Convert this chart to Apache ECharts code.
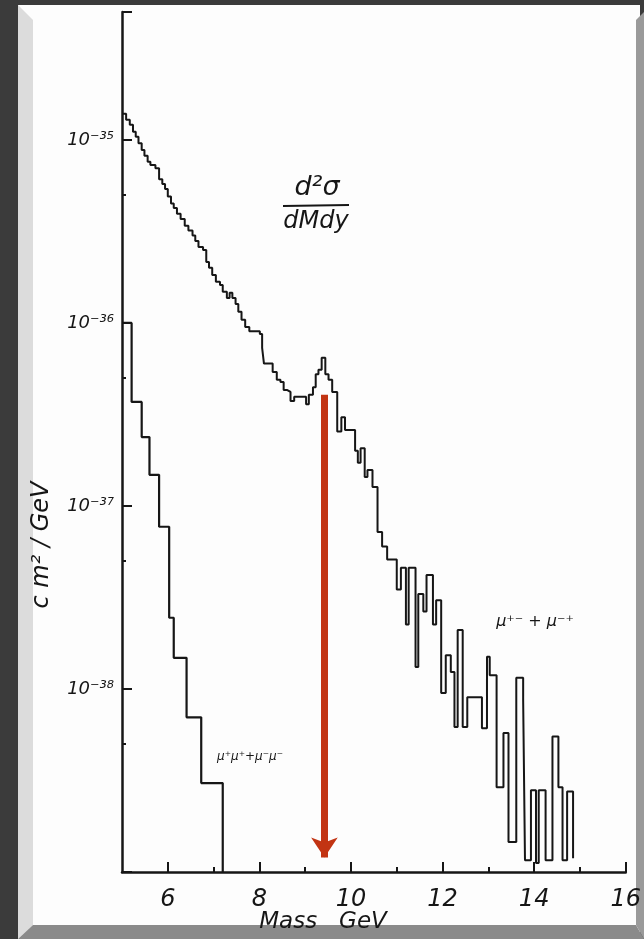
<!DOCTYPE html>
<html>
<head>
<meta charset="utf-8">
<script src="https://cdn.jsdelivr.net/npm/echarts@6/dist/echarts.min.js"></script>
<style>
html, body { margin: 0; padding: 0; background: #3b3b3b; }
#chart { width: 644px; height: 939px; }
</style>
</head>
<body>
<div id="chart"></div>
<script>
// mu+- + mu-+ : left edge of each step (GeV) and d2sigma/dMdy (cm^2/GeV)
const oppEdges = [
	5.00, 5.09, 5.17, 5.24, 5.30, 5.36, 5.43, 5.49, 5.56, 5.62, 5.73, 5.81, 5.88, 5.94, 6.00, 6.07, 6.13, 6.20, 6.28, 6.37,
	6.45, 6.54, 6.60, 6.67, 6.77, 6.84, 6.90, 6.97, 7.05, 7.14, 7.20, 7.29, 7.35, 7.41, 7.48, 7.54, 7.61, 7.69, 7.78, 8.01,
	8.06, 8.10, 8.29, 8.38, 8.46, 8.53, 8.61, 8.68, 8.76, 9.02, 9.08, 9.17, 9.23, 9.29, 9.36, 9.44, 9.51, 9.59, 9.70, 9.79,
	9.87, 10.09, 10.15, 10.21, 10.30, 10.36, 10.47, 10.58, 10.68, 10.79, 11.00, 11.09, 11.20, 11.26, 11.41, 11.47, 11.58, 11.65, 11.79, 11.86,
	11.97, 12.07, 12.18, 12.26, 12.33, 12.44, 12.54, 12.86, 12.97, 13.03, 13.18, 13.33, 13.44, 13.61, 13.76, 13.80, 13.93, 14.04, 14.10, 14.25,
	14.40, 14.53, 14.62, 14.72
]
const oppValues = [
	1.39e-35, 1.29e-35, 1.21e-35, 1.11e-35, 1.04e-35, 9.6e-36, 8.8e-36, 8.2e-36, 7.6e-36, 7.3e-36, 7.0e-36, 6.1e-36, 5.75e-36, 5.4e-36, 4.9e-36, 4.5e-36, 4.25e-36, 3.95e-36, 3.7e-36, 3.4e-36,
	3.2e-36, 3.0e-36, 2.8e-36, 2.6e-36, 2.5e-36, 2.15e-36, 2.0e-36, 1.83e-36, 1.68e-36, 1.61e-36, 1.48e-36, 1.37e-36, 1.46e-36, 1.37e-36, 1.27e-36, 1.15e-36, 1.04e-36, 9.5e-37, 9.0e-37, 8.7e-37,
	7.3e-37, 6.0e-37, 5.4e-37, 4.9e-37, 4.75e-37, 4.3e-37, 4.2e-37, 3.75e-37, 3.95e-37, 3.6e-37, 4.05e-37, 4.45e-37, 5.25e-37, 5.55e-37, 6.45e-37, 5.25e-37, 4.9e-37, 4.2e-37, 2.55e-37, 3.05e-37,
	2.6e-37, 2.0e-37, 1.72e-37, 2.07e-37, 1.44e-37, 1.57e-37, 1.27e-37, 7.2e-38, 6.0e-38, 5.1e-38, 3.5e-38, 4.6e-38, 2.25e-38, 4.6e-38, 1.32e-38, 3.3e-38, 2.65e-38, 4.2e-38, 2.25e-38, 3.05e-38,
	9.5e-39, 1.53e-38, 1.24e-38, 6.2e-39, 2.1e-38, 6.2e-39, 9.0e-39, 6.1e-39, 1.5e-38, 1.19e-38, 2.9e-39, 5.75e-39, 1.46e-39, 1.15e-38, 8.7e-39, 1.16e-39, 2.8e-39, 1.12e-39, 2.8e-39, 1.16e-39,
	5.5e-39, 2.9e-39, 1.16e-39, 2.75e-39
]
const oppEnd = 14.85
const oppFloor = 1.19e-39

// mu+mu+ + mu-mu-
const likeEdges = [5.00, 5.21, 5.43, 5.60, 5.81, 6.03, 6.13, 6.41, 6.73]
const likeValues = [1.0e-36, 3.7e-37, 2.38e-37, 1.48e-37, 7.7e-38, 2.45e-38, 1.48e-38, 7.0e-39, 3.06e-39]
const likeEnd = 7.20
const likeFloor = 1e-39

const massTicks = [6, 8, 10, 12, 14, 16]
const massMinorTicks = [7, 9, 11, 13, 15]
const labelledPowers = [-38, -37, -36, -35]
// short ticks sit at 5 x 10^n
const halfTickValues = [5e-39, 5e-38, 5e-37, 5e-36]

// red arrow at the upsilon peak
const upsilonMass = 9.42
const arrowFrom = 4.05e-37
const arrowTo = 1.2e-39

const yMin = 1e-39
const yMax = 5e-35

const ink = "#161616"
const font = s => "italic 400 " + s + "px 'DejaVu Sans'"

const supMap = { "-": "\u207b", "0": "\u2070", "1": "\u00b9", "2": "\u00b2", "3": "\u00b3", "4": "\u2074", "5": "\u2075", "6": "\u2076", "7": "\u2077", "8": "\u2078", "9": "\u2079" }
const powLabel = v => {
	const e = Math.round(v)
	if (labelledPowers.indexOf(e) < 0) {
		return ""
	}
	return "10" + String(e).split("").map(c => supMap[c]).join("")
}

const stepData = (edges, values, end, floor) => {
	const pts = edges.map((e, i) => [e, values[i]])
	pts.push([end, values[values.length - 1]])
	pts.push([end, floor])
	return pts
}

const xBase = {
	type: "value",
	min: 5,
	max: 16,
	position: "bottom",
	splitLine: { show: false }
}
// tick/label axes use log10 of the cross section; the log axis carries the data
const logBase = {
	type: "value",
	min: Math.log10(yMin),
	max: Math.log10(yMax),
	position: "left",
	splitLine: { show: false }
}

let option = {
	backgroundColor: "#3b3b3b",
	animation: false,
	grid: { left: 122, right: 7, top: 12, bottom: 67 },
	xAxis: [
		{
			...xBase,
			axisLine: { show: true, lineStyle: { color: ink, width: 2.5 } },
			axisTick: { show: true, inside: true, length: 10, customValues: massTicks, lineStyle: { color: ink, width: 2 } },
			axisLabel: { customValues: massTicks, margin: 16, color: ink, fontStyle: "italic", fontFamily: "DejaVu Sans", fontSize: 24 }
		},
		{
			...xBase,
			axisLine: { show: false },
			axisTick: { show: true, inside: true, length: 5, customValues: massMinorTicks, lineStyle: { color: ink, width: 2 } },
			axisLabel: { show: false }
		}
	],
	yAxis: [
		{
			type: "log",
			logBase: 10,
			min: yMin,
			max: yMax,
			position: "left",
			splitLine: { show: false },
			axisLine: { show: false },
			axisTick: { show: false, customValues: [yMin] },
			axisLabel: { show: false, customValues: [yMin] }
		},
		{
			...logBase,
			interval: 1,
			axisLine: { show: true, lineStyle: { color: ink, width: 2.5 } },
			axisTick: { show: true, inside: true, length: 10, lineStyle: { color: ink, width: 2 } },
			axisLabel: {
				formatter: powLabel,
				margin: 8,
				color: ink,
				fontStyle: "italic",
				fontFamily: "DejaVu Sans",
				fontSize: 18
			}
		},
		{
			...logBase,
			axisLine: { show: false },
			axisTick: { show: true, inside: true, length: 4, customValues: halfTickValues.map(v => Math.log10(v)), lineStyle: { color: ink, width: 2 } },
			axisLabel: { show: false }
		}
	],
	graphic: [
		// scanned page with bevelled edges
		{ type: "polygon", z: -100, shape: { points: [[18, 5], [640, 5], [640, 939], [18, 939]] }, style: { fill: "#fdfdfd" } },
		{ type: "polygon", z: -99, shape: { points: [[18, 5], [33, 20], [33, 925], [18, 939]] }, style: { fill: "#dcdcdc" } },
		{ type: "polygon", z: -99, shape: { points: [[18, 939], [33, 925], [636, 925], [644, 939]] }, style: { fill: "#8a8a8a" } },
		{ type: "polygon", z: -99, shape: { points: [[636, 20], [644, 12], [644, 939], [636, 925]] }, style: { fill: "#9a9a9a" } },
		{
			type: "text",
			z: 100,
			x: 323,
			y: 922,
			style: { text: "Mass   GeV", font: font(23), fill: ink, align: "center", verticalAlign: "middle" }
		},
		{
			type: "text",
			z: 100,
			x: 42,
			y: 545,
			rotation: Math.PI / 2,
			style: { text: "c m\u00b2 / GeV", font: font(24), fill: ink, align: "center", verticalAlign: "middle" }
		},
		{
			type: "text",
			z: 100,
			x: 317,
			y: 188,
			style: { text: "d\u00b2\u03c3", font: font(27), fill: ink, align: "center", verticalAlign: "middle" }
		},
		{
			type: "line",
			z: 100,
			shape: { x1: 283, y1: 206, x2: 349, y2: 205 },
			style: { stroke: ink, lineWidth: 2 }
		},
		{
			type: "text",
			z: 100,
			x: 316,
			y: 222,
			style: { text: "dMdy", font: font(24), fill: ink, align: "center", verticalAlign: "middle" }
		},
		{
			type: "text",
			z: 100,
			x: 535,
			y: 622,
			style: { text: "\u03bc\u207a\u207b + \u03bc\u207b\u207a", font: font(16), fill: ink, align: "center", verticalAlign: "middle" }
		},
		{
			type: "text",
			z: 100,
			x: 250,
			y: 757,
			style: { text: "\u03bc\u207a\u03bc\u207a+\u03bc\u207b\u03bc\u207b", font: font(12), fill: ink, align: "center", verticalAlign: "middle" }
		}
	],
	series: [
		{
			name: "\u03bc\u207a\u207b + \u03bc\u207b\u207a",
			type: "line",
			step: "end",
			showSymbol: false,
			data: stepData(oppEdges, oppValues, oppEnd, oppFloor),
			lineStyle: { color: ink, width: 2 },
			markLine: {
				silent: true,
				symbol: ["none", "arrow"],
				symbolSize: 20,
				label: { show: false },
				lineStyle: { color: "#c23413", width: 7, type: "solid" },
				data: [[{ coord: [upsilonMass, arrowFrom] }, { coord: [upsilonMass, arrowTo] }]]
			}
		},
		{
			name: "\u03bc\u207a\u03bc\u207a + \u03bc\u207b\u03bc\u207b",
			type: "line",
			step: "end",
			showSymbol: false,
			data: stepData(likeEdges, likeValues, likeEnd, likeFloor),
			lineStyle: { color: ink, width: 2.2 }
		}
	]
}

let chart
const init = option => {
	const el = document.getElementById("chart")
	if (!el) {
		return
	}
	chart = echarts.init(el)
	chart.setOption(option)
}

init(option)
</script>
</body>
</html>
